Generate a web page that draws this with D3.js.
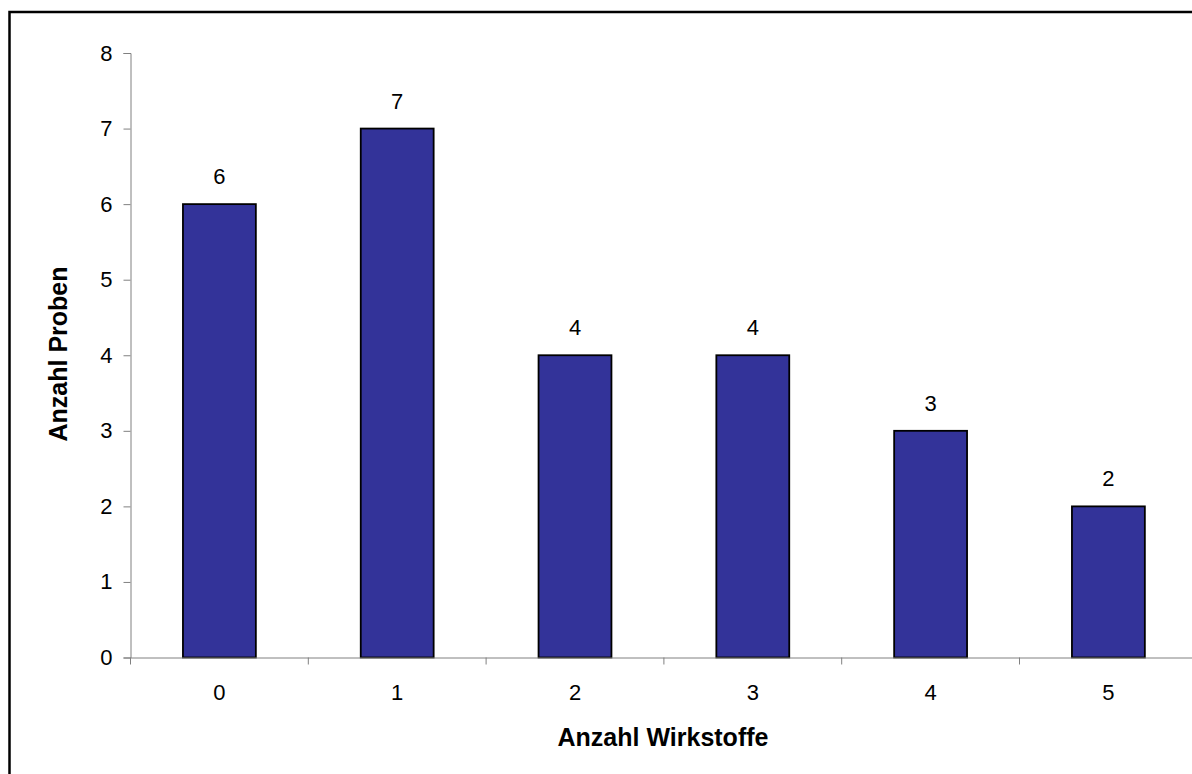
<!DOCTYPE html>
<html>
<head>
<meta charset="utf-8">
<script src="https://cdn.jsdelivr.net/npm/d3@7"></script>
<style>
	body { margin: 0; background: #fff; }
	svg { display: block; font-family: "Liberation Sans", Arial, sans-serif; }
</style>
</head>
<body>
<svg width="1192" height="774"></svg>
<script>
// Anzahl Wirkstoffe je Probe
var categories = ["0", "1", "2", "3", "4", "5"];
var values = [6, 7, 4, 4, 3, 2];
var yTicks = [0, 1, 2, 3, 4, 5, 6, 7, 8];

var svg = d3.select("svg");
var FONT = "Liberation Sans, Arial, sans-serif";

// outer chart frame (runs off the right/bottom of the picture)
svg.append("rect")
	.attr("x", 9.5).attr("y", 12)
	.attr("width", 1220).attr("height", 800)
	.attr("fill", "none")
	.attr("stroke", "#000")
	.attr("stroke-width", 2.5);

var x = d3.scaleBand()
	.domain(categories)
	.range([130.5, 1197.3]);

var y = d3.scaleLinear()
	.domain([0, 8])
	.range([657.5, 53]);

var barW = x.bandwidth() * 0.41;

// bars
svg.append("g")
	.selectAll("rect")
	.data(values)
	.enter().append("rect")
	.attr("x", function(d, i) { return x(categories[i]) + x.bandwidth() / 2 - barW / 2; })
	.attr("y", function(d) { return y(d); })
	.attr("width", barW)
	.attr("height", function(d) { return y(0) - y(d); })
	.attr("fill", "#333399")
	.attr("stroke", "#000")
	.attr("stroke-width", 1.8);

// value labels
svg.append("g")
	.selectAll("text")
	.data(values)
	.enter().append("text")
	.attr("x", function(d, i) { return x(categories[i]) + x.bandwidth() / 2; })
	.attr("y", function(d) { return y(d) - 20; })
	.attr("text-anchor", "middle")
	.attr("font-size", 22)
	.text(function(d) { return d; });

// y axis
var yAxis = svg.append("g")
	.attr("transform", "translate(130.5,0)")
	.call(d3.axisLeft(y).tickValues(yTicks).tickSize(7).tickPadding(11));
yAxis.selectAll("text").attr("font-size", 22).attr("fill", "#000").attr("font-family", FONT);

// x axis
var xAxis = svg.append("g")
	.attr("transform", "translate(0,657.5)")
	.call(d3.axisBottom(x).tickSize(0).tickPadding(27));
xAxis.selectAll("text").attr("font-size", 22).attr("fill", "#000").attr("font-family", FONT);
// ticks on category boundaries
xAxis.selectAll("line.sep")
	.data(categories)
	.enter().append("line")
	.attr("class", "sep")
	.attr("x1", function(d) { return x(d); })
	.attr("x2", function(d) { return x(d); })
	.attr("y1", 0).attr("y2", 7)
	.attr("stroke", "#808080");

svg.selectAll(".domain").attr("stroke", "#808080");
yAxis.selectAll(".tick line").attr("stroke", "#808080");

// axis titles
svg.append("text")
	.attr("x", 663).attr("y", 746)
	.attr("text-anchor", "middle")
	.attr("font-size", 25)
	.attr("font-weight", "bold")
	.text("Anzahl Wirkstoffe");

svg.append("text")
	.attr("transform", "translate(66.5,354) rotate(-90)")
	.attr("text-anchor", "middle")
	.attr("font-size", 25)
	.attr("font-weight", "bold")
	.text("Anzahl Proben");
</script>
</body>
</html>
